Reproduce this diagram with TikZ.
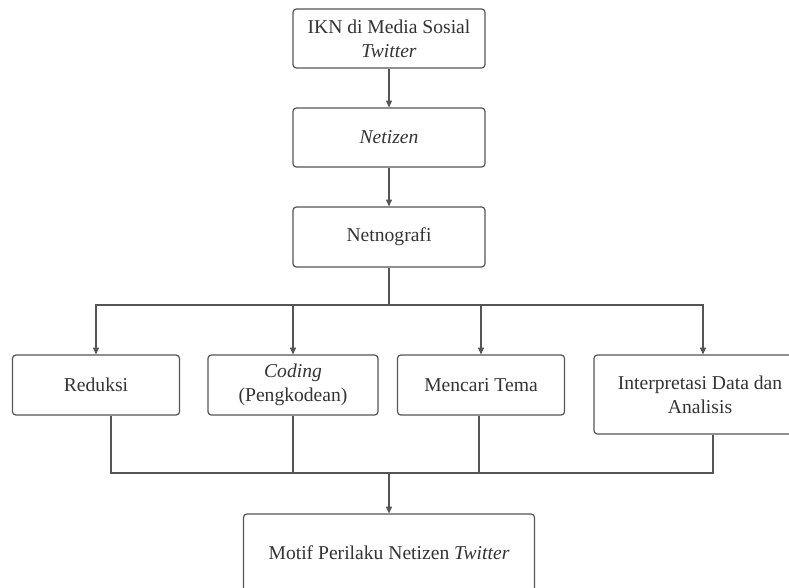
\documentclass[tikz,border=0pt]{standalone}
\usepackage{xcolor}
\usepackage{fontspec}
\setmainfont{Liberation Serif}
\usepackage{tikz}
\usetikzlibrary{calc}
\usetikzlibrary{arrows.meta}

\definecolor{linegray}{HTML}{555555}
\definecolor{textgray}{HTML}{333333}

\begin{document}
\begin{tikzpicture}[x=0.75pt, y=-0.75pt,    box/.style={draw=linegray, line width=0.9pt, rounded corners=2.5pt, align=center, text=textgray, font=\fontsize{14.7}{18}\selectfont, inner sep=0pt},    link/.style={draw=linegray, line width=0.9pt},    flow/.style={link, -{Triangle[length=5pt,width=4.5pt]}}]
		\useasboundingbox (0,0) rectangle (789,587);
		\clip (0,0) rectangle (789,587);
		% draw the boxes (sizes in pt, 1px = 0.75pt)
		\node[box, minimum width=144pt, minimum height=44.25pt] (ikn) at (389,38.5) {IKN di Media Sosial\\\textit{Twitter}};
		\node[box, minimum width=144pt, minimum height=44.25pt] (netizen) at (389,137.5) {\textit{Netizen}};
		\node[box, minimum width=144pt, minimum height=45pt] (netnografi) at (389,237) {Netnografi};
		\node[box, minimum width=125.25pt, minimum height=45pt] (reduksi) at (96,385) {Reduksi};
		\node[box, minimum width=127.5pt, minimum height=45pt] (coding) at (293,385) {\textit{Coding}\\(Pengkodean)};
		\node[box, minimum width=125.25pt, minimum height=45pt] (mencari) at (481,385) {Mencari Tema};
		\node[box, minimum width=159pt, minimum height=59.25pt] (interp) at (700,394.5) {Interpretasi Data dan\\Analisis};
		\node[box, minimum width=218.25pt, minimum height=58.5pt] (motif) at (389,553) {Motif Perilaku Netizen \textit{Twitter}};
		% add the junctions
		\coordinate (split) at (389,305);
		\coordinate (merge) at (389,473);
		% draw the arrows
		\draw[flow] (ikn) -- (netizen);
		\draw[flow] (netizen) -- (netnografi);
		\draw[link] (netnografi.south) -- (split);
		\draw[flow] (split) -| (reduksi.north);
		\draw[flow] (split) -| (coding.north);
		\draw[flow] (split) -| (mencari.north);
		\draw[flow] (split) -| ($(interp.north)+(3,0)$);
		\draw[link] ($(reduksi.south)+(15,0)$) |- (merge);
		\draw[link] (coding.south) |- (merge);
		\draw[link] ($(mencari.south)+(-2,0)$) |- (merge);
		\draw[link] ($(interp.south)+(13,0)$) |- (merge);
		\draw[flow] (merge) -- (motif.north);
	\end{tikzpicture}
\end{document}
